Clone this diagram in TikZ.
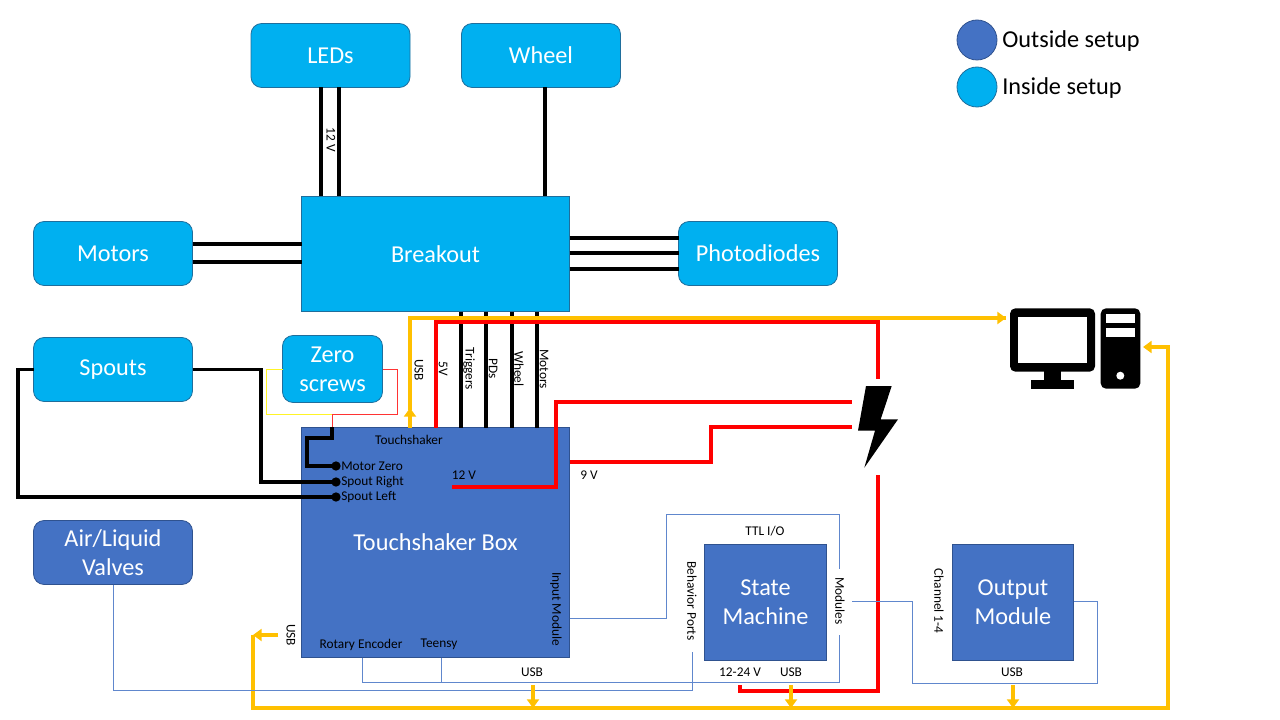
\documentclass[tikz,border=0pt]{standalone}
\usepackage{fontspec}
\setmainfont{Carlito}
\usetikzlibrary{arrows.meta,calc}
\definecolor{inblue}{HTML}{00B0F0}
\definecolor{inedge}{HTML}{1F6E9C}
\definecolor{outblue}{HTML}{4472C4}
\definecolor{outedge}{HTML}{2F528F}
\definecolor{usbgold}{HTML}{FFC000}
\tikzset{boxsize/.style 2 args={minimum width=#1*0.75pt,minimum height=#2*0.75pt}}
\begin{document}
\begin{tikzpicture}[x=0.75pt,y=-0.75pt,line join=miter]
\tikzstyle{big}=[font=\fontsize{18.2}{21.75}\selectfont,text=white,align=center,inner sep=0pt,outer sep=0pt]
\tikzstyle{inside}=[big,fill=inblue,draw=inedge,line width=0.6pt]
\tikzstyle{outside}=[big,fill=outblue,draw=outedge,line width=0.6pt]
\tikzstyle{card}=[boxsize={159}{64},rounded corners=8pt]
\tikzstyle{lbl}=[font=\fontsize{10}{12}\selectfont,inner sep=0pt]
\tikzstyle{side}=[lbl,rotate=270]
\tikzstyle{wire}=[line width=2.7pt,black]
\tikzstyle{power}=[line width=2.7pt,red]
\tikzstyle{usb}=[line width=2.7pt,usbgold]
\tikzstyle{usbtip}=[usb,-{Triangle[length=6.5pt,width=9pt]}]
\tikzstyle{signal}=[line width=0.6pt,outblue!85!white]
\useasboundingbox (0,0) rectangle (1280,720);
% boxes inside the setup
\node[inside,card] (leds) at (330.5,55.5) {LEDs};
\node[inside,card] (wheel) at (541,55.5) {Wheel};
\node[inside,boxsize={268}{115}] (breakout) at (435.5,254) {Breakout};
\node[inside,card] (motors) at (113,253.5) {Motors};
\node[inside,card] (diodes) at (758,253.5) {Photodiodes};
\node[inside,card] (spouts) at (113,369.5) {Spouts};
\node[inside,boxsize={100}{67},rounded corners=8pt] (zero) at (332.5,369) {Zero\\screws};
% boxes outside the setup
\node[outside,boxsize={268}{230}] (shaker) at (435.5,542.5) {Touchshaker Box};
\node[outside,card] (valves) at (113,552.5) {Air/Liquid\\Valves};
\node[outside,boxsize={122}{116}] (state) at (765.5,602.5) {State\\Machine};
\node[outside,boxsize={121}{116}] (output) at (1013,602.5) {Output\\Module};
% legend
\node[outside,circle,minimum size=30pt,label={[big,text=black,xshift=4pt,yshift=-1pt]right:Outside setup}] (keyout) at (977,40) {};
\node[inside,circle,minimum size=30pt,label={[big,text=black,xshift=4pt,yshift=-1pt]right:Inside setup}] (keyin) at (977,87) {};
% screw terminals
\foreach \n/\y/\t in {dotzero/466/Motor Zero,dotright/482/Spout Right,dotleft/497/Spout Left}{
	\fill (336,\y) circle (3.5pt) coordinate (\n);
	\node[lbl,anchor=west] at (341,\y) {\t};
}
% black wires
\foreach \x in {321,339}{
	\coordinate (t) at (\x,0);
	\draw[wire] (leds.south -| t) -- (breakout.north -| t);
}
\coordinate (t) at (545,0);
\draw[wire] (wheel.south -| t) -- (breakout.north -| t);
\foreach \y in {244,262}{
	\coordinate (t) at (0,\y);
	\draw[wire] (motors.east |- t) -- (breakout.west |- t);
}
\foreach \y in {238,253,269}{
	\coordinate (t) at (0,\y);
	\draw[wire] (breakout.east |- t) -- (diodes.west |- t);
}
\foreach \x in {461,486,512,537}{
	\coordinate (t) at (\x,0);
	\draw[wire] (breakout.south -| t) -- (shaker.north -| t);
}
\draw[wire] (spouts.east) -| (261,482) -- (dotright);
\draw[wire] (spouts.west) -| (18,497) -- (dotleft);
\coordinate (screwin) at (332,427);
\draw[wire] (screwin) -- (332,438) -| (307,466) -- (dotzero);
% zero screw leads
\draw[line width=0.7pt,red!80] (zero.east) -| (397,414) -- (332,414) -- (screwin);
\draw[line width=0.7pt,yellow!85!white] (zero.west) -| (266,414) -- (332,414);
% power
\coordinate (boltin) at (878,379);
\coordinate (boltout) at (878,475);
\coordinate (t) at (436,0);
\draw[power] (shaker.north -| t) -- (436,322) -| (boltin);
\draw[power] (452,487) -| (556,402) -- (852,402);
\coordinate (t) at (0,462);
\draw[power] (shaker.east |- t) -| (711,427) -- (852,427);
\draw[power] (boltout) |- (740,691) -- (740,685);
% bolt
\fill (866,386) -- (891.7,386) -- (880.7,419.3) -- (898,419.3) -- (864.3,467.7) -- (875,430.7) -- (858,430.7) -- cycle;
% computer
\fill[rounded corners=4pt] (1010,308.3) rectangle (1095,371.7);
\fill[white] (1018.3,316.7) rectangle (1086.7,362.7);
\fill (1044,371) rectangle (1060.7,380);
\fill (1031,380) rectangle (1074,388.7);
\fill[rounded corners=4pt] (1100.7,308.3) rectangle (1140.3,388.7);
\fill[white] (1106,314) rectangle (1135,323);
\fill[white] (1106,328.3) rectangle (1135,337.3);
\fill[white] (1120.3,375.7) circle (3pt);
\coordinate (pctop) at (1006,318);
\coordinate (pcside) at (1143,347);
% usb
\coordinate (t) at (410,0);
\draw[usbtip] (shaker.north -| t) -- (410,408);
\draw[usb] (410,410) -- (410,318) -- (pctop);
\draw[usbtip] (1000,318) -- (pctop);
\coordinate (usbleft) at (278,635);
\coordinate (usbbus) at (253,708);
\draw[usb] (253,635) -- (usbbus) -- (1168,708) |- (1155,347);
\draw[usbtip] (1160,347) -- (pcside);
\draw[usbtip] (usbleft) -- (253,635);
% ttl and module lines
\draw[signal] (valves.south) |- (692,690) -- (692,652);
\coordinate (t) at (362,0);
\draw[signal] (shaker.south -| t) |- (839,682) -- (839,635);
\coordinate (t) at (441,0);
\draw[signal] (shaker.south -| t) -- (441,682);
\coordinate (t) at (0,618);
\draw[signal] (shaker.east |- t) -| (666,514) -| (839,569);
\coordinate (t) at (0,601);
\draw[signal] (852,601) -| (912,683) -| (1097,601) -- (output.east |- t);
\foreach \x in {533,791,1013}{
	\draw[usbtip] (\x,685) -- (\x,708);
}
% labels
\node[side] at (331,140) {12 V};
\node[side] at (419,370) {USB};
\node[side] at (443,369) {5V};
\node[side] at (469,369) {Triggers};
\node[side] at (493,369) {PDs};
\node[side] at (519,369) {Wheel};
\node[side] at (544,369) {Motors};
\node[side] at (556,609) {Input Module};
\node[side] at (291,635) {USB};
\node[side] at (692,601) {Behavior Ports};
\node[side] at (840,601) {Modules};
\node[side] at (939,601) {Channel 1-4};
\node[lbl] at (409,439.5) {Touchshaker};
\node[lbl] at (464,475.5) {12 V};
\node[lbl] at (589,475.5) {9 V};
\node[lbl] at (361,644.5) {Rotary Encoder};
\node[lbl] at (439,644.5) {Teensy};
\node[lbl] at (532,672.5) {USB};
\node[lbl] at (765,531.5) {TTL  I/O};
\node[lbl] at (740,672.5) {12-24 V};
\node[lbl] at (791,672.5) {USB};
\node[lbl] at (1012,672.5) {USB};
\end{tikzpicture}
\end{document}
